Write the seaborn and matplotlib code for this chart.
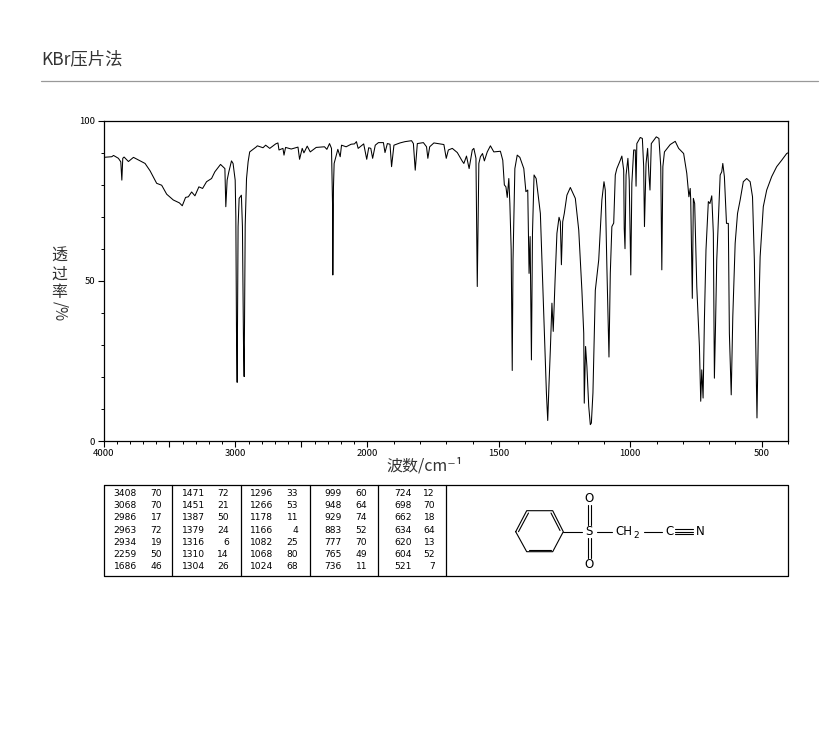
# Espectro IR de (fenilsulfonil)acetonitrilo, KBr
import numpy as np
import matplotlib
matplotlib.use('Agg')
import matplotlib.pyplot as plt
from matplotlib.ticker import FixedLocator, FixedFormatter
import seaborn as sns

sns.set_style('ticks')
plt.rcParams['font.family'] = ['Noto Sans CJK SC', 'DejaVu Sans']

# Datos
wavenumber = [
    4000, 3937, 3924, 3887, 3869, 3861, 3854, 3844, 3811, 3773, 3723, 3685, 3647, 3597, 3559, 3521,
    3471, 3425, 3403, 3378, 3357, 3332, 3307, 3277, 3249, 3219, 3181, 3156, 3113, 3080, 3073, 3063,
    3050, 3030, 3018, 3002, 2997, 2992, 2987, 2980, 2972, 2955, 2947, 2939, 2934, 2926, 2916, 2904,
    2892, 2841, 2834, 2791, 2771, 2740, 2695, 2678, 2670, 2640, 2632, 2620, 2577, 2526, 2514, 2494,
    2481, 2456, 2433, 2388, 2325, 2307, 2287, 2272, 2264, 2262, 2257, 2252, 2224, 2206, 2196, 2161,
    2123, 2098, 2083, 2070, 2028, 2005, 1995, 1987, 1980, 1970, 1958, 1939, 1933, 1924, 1914, 1908,
    1899, 1876, 1857, 1832, 1825, 1818, 1810, 1787, 1775, 1770, 1763, 1747, 1709, 1700, 1692, 1677,
    1658, 1639, 1633, 1623, 1613, 1601, 1595, 1587, 1582, 1576, 1570, 1562, 1555, 1544, 1532, 1519,
    1494, 1485, 1479, 1473, 1468, 1462, 1458, 1453, 1449, 1446, 1439, 1430, 1420, 1405, 1397, 1390,
    1385, 1381, 1376, 1372, 1366, 1358, 1342, 1327, 1319, 1314, 1309, 1304, 1298, 1293, 1286, 1279,
    1271, 1266, 1262, 1257, 1251, 1241, 1228, 1209, 1196, 1184, 1177, 1175, 1170, 1165, 1158, 1152,
    1148, 1142, 1133, 1120, 1108, 1100, 1095, 1089, 1081, 1076, 1070, 1063, 1057, 1051, 1038, 1032,
    1025, 1023, 1020, 1016, 1009, 1004, 998, 994, 987, 981, 978, 975, 962, 954, 949, 946,
    940, 934, 929, 925, 920, 901, 891, 884, 880, 876, 870, 848, 829, 816, 797, 785,
    777, 772, 770, 766, 764, 760, 755, 747, 737, 732, 728, 723, 718, 712, 703, 697,
    690, 684, 680, 676, 671, 662, 658, 652, 648, 642, 634, 627, 623, 616, 610, 601,
    592, 582, 570, 557, 544, 535, 528, 521, 518, 513, 506, 494, 481, 462, 443, 424,
    405, 400,
]
transmittance = [
    88.5, 88.7, 89.1, 88.2, 87.1, 81.4, 88.2, 88.6, 87.2, 88.5, 87.4, 86.6, 84.3, 80.4, 79.8, 77.0,
    75.2, 74.3, 73.4, 76.0, 76.2, 77.7, 76.5, 79.3, 78.8, 80.9, 81.9, 84.0, 86.3, 85.0, 73.1, 81.4,
    84.0, 87.4, 86.6, 81.4, 70.0, 34.0, 18.3, 66.9, 75.7, 76.7, 66.9, 30.5, 20.1, 67.4, 81.9, 87.1,
    90.2, 91.8, 92.1, 91.5, 92.3, 91.3, 92.7, 93.0, 90.8, 91.3, 89.2, 91.6, 91.1, 91.7, 87.9, 91.3,
    89.9, 92.0, 90.2, 91.6, 91.8, 91.0, 92.8, 91.3, 73.6, 51.8, 79.3, 86.6, 91.0, 88.7, 92.3, 91.8,
    92.6, 92.7, 93.4, 91.3, 92.7, 87.9, 91.5, 91.3, 88.2, 92.3, 93.1, 93.1, 90.0, 92.8, 92.6, 85.6,
    92.3, 93.0, 93.4, 93.7, 92.8, 84.5, 92.8, 93.1, 91.8, 88.2, 91.8, 93.0, 92.5, 88.2, 90.8, 91.3,
    90.0, 87.3, 86.6, 88.9, 85.0, 90.8, 91.3, 88.2, 48.2, 86.6, 88.7, 89.7, 87.4, 90.2, 92.1, 90.2,
    90.4, 87.6, 79.9, 79.3, 76.0, 81.9, 74.1, 59.6, 22.0, 56.5, 85.0, 89.2, 88.5, 85.0, 77.8, 78.3,
    52.3, 63.8, 25.3, 64.8, 83.0, 81.9, 71.0, 34.7, 15.0, 6.4, 18.0, 28.5, 43.0, 34.2, 50.3, 64.8,
    69.8, 68.4, 55.0, 68.4, 71.0, 76.7, 79.1, 75.7, 65.8, 47.0, 33.6, 11.8, 29.5, 23.3, 10.8, 5.1,
    5.6, 15.0, 47.0, 56.5, 75.2, 80.9, 78.3, 54.4, 26.2, 52.3, 66.9, 68.0, 83.0, 85.0, 87.6, 88.9,
    84.5, 66.4, 60.0, 83.0, 88.2, 81.4, 51.8, 80.4, 90.8, 90.8, 79.5, 92.8, 94.7, 94.4, 85.6, 66.9,
    86.6, 91.3, 83.0, 78.3, 92.8, 94.9, 94.4, 85.6, 53.4, 85.6, 90.2, 92.5, 93.5, 91.3, 89.7, 83.5,
    76.2, 78.8, 75.2, 54.4, 44.5, 75.7, 74.1, 48.2, 29.5, 12.4, 22.2, 13.4, 37.8, 59.6, 74.7, 74.1,
    76.5, 64.8, 19.6, 34.7, 56.5, 75.2, 83.0, 84.0, 86.6, 82.5, 67.9, 67.9, 33.6, 14.4, 38.8, 61.7,
    71.0, 75.2, 80.9, 81.9, 80.9, 76.2, 56.5, 23.3, 7.2, 33.6, 57.5, 73.1, 78.3, 82.5, 85.6, 87.6,
    89.7, 89.9,
]

# Tabla de picos
peak_wn = [
    ['3408', '3068', '2986', '2963', '2934', '2259', '1686'],
    ['1471', '1451', '1387', '1379', '1316', '1310', '1304'],
    ['1296', '1266', '1178', '1166', '1082', '1068', '1024'],
    ['999', '948', '929', '883', '777', '765', '736'],
    ['724', '698', '662', '634', '620', '604', '521'],
]
peak_t = [
    ['70', '70', '17', '72', '19', '50', '46'],
    ['72', '21', '50', '24', '6', '14', '26'],
    ['33', '53', '11', '4', '25', '80', '68'],
    ['60', '64', '74', '52', '70', '49', '11'],
    ['12', '70', '18', '64', '13', '52', '7'],
]

x_major = [4000, 3500, 3000, 2500, 2000, 1500, 1000, 500]
x_labels = ['4000', '', '3000', '', '2000', '1500', '1000', '500']
x_minor = list(range(400, 4000, 100))
y_major = [0, 50, 100]
y_minor = list(range(0, 101, 10))

W, H = 822, 737


# El eje cambia de escala en 2000 cm-1 (el tramo derecho va al doble)
def escala(v):
    v = np.asarray(v, dtype=float)
    return np.where(v < 2000, v * 0.263, 526 + (v - 2000) * 0.132)


def escala_inv(p):
    p = np.asarray(p, dtype=float)
    return np.where(p < 526, p / 0.263, 2000 + (p - 526) / 0.132)


fig = plt.figure(figsize=(W / 100, H / 100), dpi=100, facecolor='white')

# Espectro
ax = fig.add_axes([103.5 / W, 1 - 441 / H, 684.5 / W, 320.5 / H])
sns.lineplot(x=wavenumber, y=transmittance, ax=ax, sort=False, estimator=None,
             color='black', linewidth=0.75, errorbar=None)
ax.set_xscale('function', functions=(escala, escala_inv))
ax.set_xlim(4000, 400)
ax.set_ylim(0, 100)
ax.xaxis.set_major_locator(FixedLocator(x_major))
ax.xaxis.set_major_formatter(FixedFormatter(x_labels))
ax.xaxis.set_minor_locator(FixedLocator(x_minor))
ax.yaxis.set_major_locator(FixedLocator(y_major))
ax.yaxis.set_minor_locator(FixedLocator(y_minor))
ax.tick_params(axis='both', which='major', length=4, width=0.8, labelsize=6.8, pad=2,
               color='black', labelcolor='black')
ax.tick_params(axis='both', which='minor', length=2.5, width=0.7, color='black')
for lado in ax.spines.values():
    lado.set_linewidth(0.9)
    lado.set_color('black')
    lado.set_visible(True)

# Capa en pixeles para titulo, tabla y estructura
capa = fig.add_axes([0, 0, 1, 1], facecolor='none')
capa.set_xlim(0, W)
capa.set_ylim(H, 0)
capa.axis('off')

capa.text(41, 59, 'KBr压片法', fontsize=12.5, color='#333333', ha='left', va='center')
capa.plot([41, 818], [81, 81], color='#999999', linewidth=0.9)

capa.text(425, 466, '波数/cm⁻¹', fontsize=11.5, color='#333333', ha='center', va='center')
# Etiqueta vertical: caracteres apilados
for yc, ch in [(256, '透'), (274, '过'), (292.5, '率')]:
    capa.text(59.5, yc, ch, fontsize=11.5, color='#333333', ha='center', va='center')
capa.text(59.5, 311, '/%', fontsize=11, color='#333333', ha='center', va='center', rotation=270)

# Tabla
capa.plot([103.5, 788, 788, 103.5, 103.5], [485, 485, 576, 576, 485], color='black', linewidth=0.9)
for xd in [172, 240.5, 309.5, 378, 446]:
    capa.plot([xd, xd], [485, 576], color='black', linewidth=0.9)

col_wn = [137, 205, 273, 342, 412]
col_t = [162, 229, 298, 367, 435]
for c in range(5):
    for f in range(7):
        y = 493.5 + f * 12.2
        capa.text(col_wn[c], y, peak_wn[c][f], fontsize=6.6, color='black', ha='right', va='center', family='DejaVu Sans')
        capa.text(col_t[c], y, peak_t[c][f], fontsize=6.6, color='black', ha='right', va='center', family='DejaVu Sans')

# Estructura
anillo_x = [515.7, 526.7, 552.7, 563.3, 552.7, 526.7, 515.7]
anillo_y = [531.7, 510.7, 510.7, 531.7, 551.7, 551.7, 531.7]
capa.plot(anillo_x, anillo_y, color='black', linewidth=0.8)
for xs, ys in [([518.5, 528.5], [531.7, 513]), ([551, 560], [513, 530.5]), ([529, 550.5], [549.5, 549.5]),
               ([563.3, 582], [531.7, 531.7]), ([597, 612], [531.7, 531.7]), ([644, 662], [531.7, 531.7]),
               ([587.5, 587.5], [505, 525]), ([591, 591], [505, 525]),
               ([587.5, 587.5], [538, 558]), ([591, 591], [538, 558]),
               ([675, 693], [529.3, 529.3]), ([675, 693], [531.7, 531.7]), ([675, 693], [534, 534])]:
    capa.plot(xs, ys, color='black', linewidth=0.8)

for tx, ty, t in [(589.3, 531.7, 'S'), (589.3, 498.5, 'O'), (589.3, 564.5, 'O'),
                  (669, 531.7, 'C'), (700, 531.7, 'N')]:
    capa.text(tx, ty, t, fontsize=8.5, color='black', ha='center', va='center', family='DejaVu Sans')
capa.text(615, 531.7, 'CH', fontsize=8.5, color='black', ha='left', va='center', family='DejaVu Sans')
capa.text(633, 535, '2', fontsize=6.5, color='black', ha='left', va='center', family='DejaVu Sans')

fig.savefig('out.png', dpi=100)
